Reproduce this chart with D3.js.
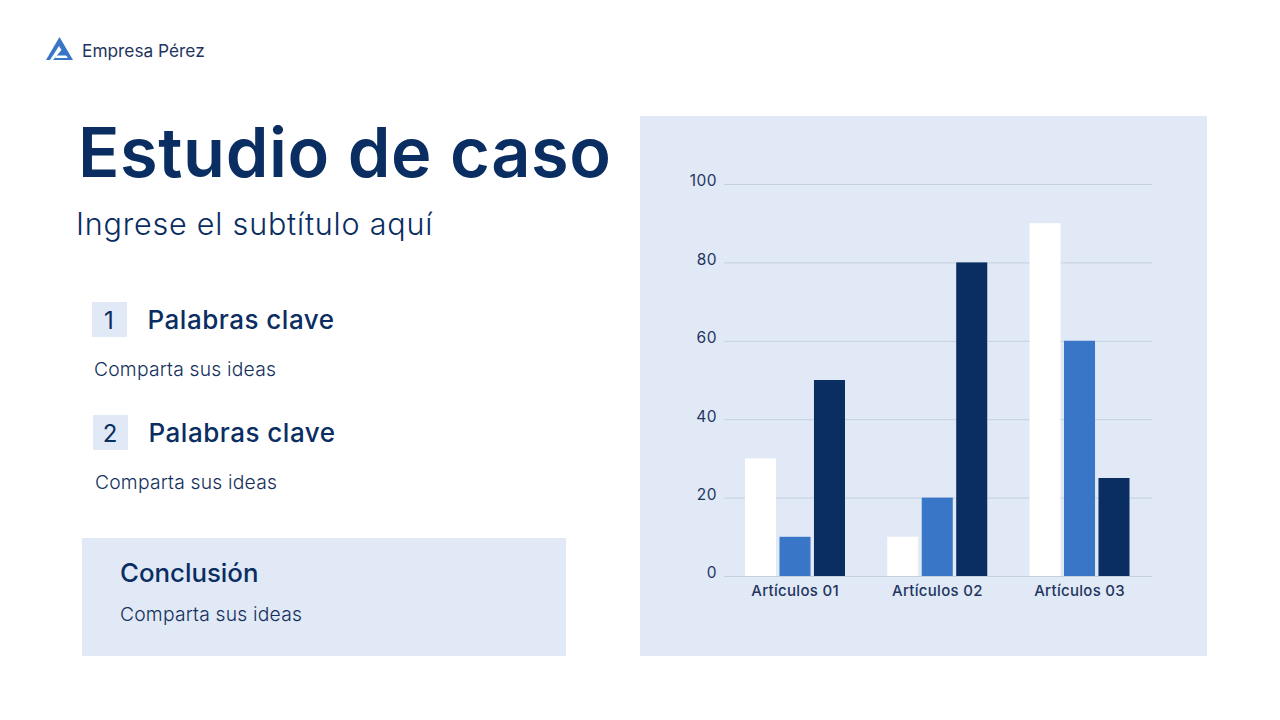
<!DOCTYPE html>
<html lang="es">
<head>
<meta charset="utf-8">
<title>Estudio de caso</title>
<script src="https://cdn.jsdelivr.net/npm/d3@7"></script>
<style>
  html, body { margin: 0; padding: 0; background: #fff; }
  svg { display: block; }
  text { font-family: Inter, "Open Sans", sans-serif; }
  .axis path { display: none; }
  .axis line { stroke: #c5cfdf; }
</style>
</head>
<body>
<svg id="chart" width="1280" height="720"></svg>
<script>
// ----------DATA----------
var categories = ['Artículos 01', 'Artículos 02', 'Artículos 03'];
var seriesNames = ['Serie 1', 'Serie 2', 'Serie 3'];
var serie1 = [30, 10, 90];
var serie2 = [10, 20, 60];
var serie3 = [50, 80, 25];
var yTicks = [0, 20, 40, 60, 80, 100];
var seriesColors = ['#ffffff', '#3a76c8', '#0a2d62'];

var navy = '#0a2d62';
var panel = '#e0e9f5';
var svg = d3.select('#chart');

// ----------LOGO----------
svg.append('path')
    .attr('d', 'M59.5 37 L73 60 L46 60 Z')
    .attr('fill', '#3a76c8');
svg.append('path')
    .attr('d', 'M59 46 L61.5 50 L53 60 L50 60 Z M57 55.5 L66 55.5 L68 58 L55 58 Z')
    .attr('fill', '#ffffff');

svg.append('text').attr('x', 82).attr('y', 56.5)
    .attr('font-size', 17.3).attr('font-weight', 400).attr('fill', '#1f3560')
    .text('Empresa Pérez');

// ----------LEFT COLUMN----------
svg.append('text').attr('x', 78).attr('y', 177)
    .attr('font-size', 68.5).attr('font-weight', 600).attr('fill', navy)
    .attr('letter-spacing', 0.6)
    .text('Estudio de caso');
svg.append('text').attr('x', 76).attr('y', 235)
    .attr('font-size', 30.5).attr('font-weight', 300).attr('fill', navy)
    .attr('letter-spacing', 0.8)
    .text('Ingrese el subtítulo aquí');

function keyword(boxX, boxY, num) {
    svg.append('rect').attr('x', boxX).attr('y', boxY)
        .attr('width', 35).attr('height', 35).attr('fill', panel);
    svg.append('text').attr('x', boxX + 17).attr('y', boxY + 27)
        .attr('text-anchor', 'middle')
        .attr('font-size', 24).attr('font-weight', 400).attr('fill', navy)
        .text(num);
    svg.append('text').attr('x', boxX + 55.5).attr('y', boxY + 27)
        .attr('font-size', 26).attr('font-weight', 500).attr('fill', navy)
        .attr('letter-spacing', 0.5)
        .text('Palabras clave');
    svg.append('text').attr('x', boxX + 2).attr('y', boxY + 74)
        .attr('font-size', 19.3).attr('font-weight', 300).attr('fill', '#142f5c')
        .attr('letter-spacing', 0.2)
        .text('Comparta sus ideas');
}
keyword(92, 302, '1');
keyword(93, 415, '2');

svg.append('rect').attr('x', 82).attr('y', 538)
    .attr('width', 484).attr('height', 118).attr('fill', panel);
svg.append('text').attr('x', 120).attr('y', 582)
    .attr('font-size', 25.8).attr('font-weight', 500).attr('fill', navy)
    .text('Conclusión');
svg.append('text').attr('x', 120).attr('y', 621)
    .attr('font-size', 19.3).attr('font-weight', 300).attr('fill', '#142f5c')
    .attr('letter-spacing', 0.2)
    .text('Comparta sus ideas');

// ----------CHART----------
svg.append('rect').attr('x', 640).attr('y', 116)
    .attr('width', 567).attr('height', 540).attr('fill', panel);

var x = d3.scaleBand().domain(categories).range([724, 1150.75]);
var xInner = d3.scaleBand().domain(seriesNames).range([21, 121]).paddingInner(0.1).paddingOuter(0);
var y = d3.scaleLinear().domain([0, 100]).range([576, 184]);

var yAxis = svg.append('g')
    .attr('class', 'axis')
    .attr('transform', 'translate(724,0)')
    .call(d3.axisLeft(y).tickValues(yTicks).tickSize(-428).tickPadding(7));
yAxis.selectAll('text')
    .attr('font-size', 15.5).attr('fill', '#1f3560')
    .attr('letter-spacing', 0.5)
    .attr('dy', '0.12em');

var xAxis = svg.append('g')
    .attr('class', 'axis')
    .attr('transform', 'translate(0,576)')
    .call(d3.axisBottom(x).tickSize(0).tickPadding(9));
xAxis.selectAll('text')
    .attr('font-size', 15).attr('font-weight', 500).attr('fill', '#1f3560')
    .attr('letter-spacing', 0.3);

var seriesValues = [serie1, serie2, serie3];
seriesValues.forEach(function (values, s) {
    svg.append('g').selectAll('rect')
        .data(values)
        .enter()
        .append('rect')
        .attr('x', function (d, i) { return x(categories[i]) + xInner(seriesNames[s]); })
        .attr('y', function (d) { return y(d); })
        .attr('width', xInner.bandwidth())
        .attr('height', function (d) { return y(0) - y(d); })
        .attr('fill', seriesColors[s]);
});
</script>
</body>
</html>
